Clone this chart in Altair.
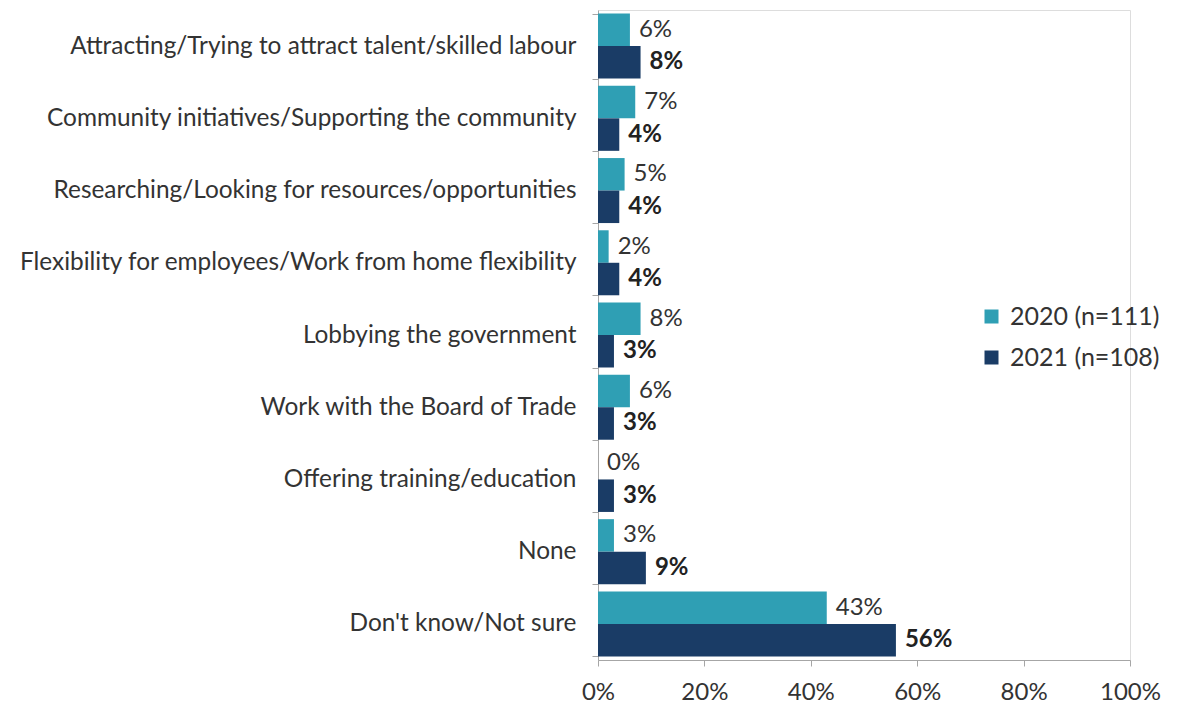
import altair as alt
import pandas as pd

categories = [
    "Attracting/Trying to attract talent/skilled labour",
    "Community initiatives/Supporting the community",
    "Researching/Looking for resources/opportunities",
    "Flexibility for employees/Work from home flexibility",
    "Lobbying the government",
    "Work with the Board of Trade",
    "Offering training/education",
    "None",
    "Don't know/Not sure",
]
series = ["2020 (n=111)", "2021 (n=108)"]
values_2020 = [6, 7, 5, 2, 8, 6, 0, 3, 43]
values_2021 = [8, 4, 4, 4, 3, 3, 3, 9, 56]
colors = ["#2F9FB4", "#1A3C66"]
x_ticks = [0, 20, 40, 60, 80, 100]

rows = []
for c, a, b in zip(categories, values_2020, values_2021):
    rows.append({"Category": c, "Year": series[0], "Value": a})
    rows.append({"Category": c, "Year": series[1], "Value": b})
df = pd.DataFrame(rows)

FONT = "Lato"
FS = 24

y_enc = alt.Y(
    "Category:N",
    sort=categories,
    title=None,
    scale=alt.Scale(paddingInner=0.1, paddingOuter=0.05),
    axis=alt.Axis(
        labelFontSize=24.4,
        labelFont=FONT,
        labelColor="#333333",
        labelPadding=16,
        labelLimit=700,
        domainColor="#A6A6A6",
        tickColor="#A6A6A6",
        tickSize=6,
        tickBand="extent",
        grid=False,
    ),
)
yoff = alt.YOffset("Year:N", sort=series, scale=alt.Scale(paddingInner=0, paddingOuter=0))
x_enc = alt.X(
    "Value:Q",
    title=None,
    scale=alt.Scale(domain=[0, 100]),
    axis=alt.Axis(
        values=x_ticks,
        labelExpr="datum.value + '%'",
        labelFontSize=FS,
        labelFont=FONT,
        labelColor="#333333",
        labelPadding=14,
        labelFlush=False,
        labelOverlap=False,
        domainColor="#A6A6A6",
        tickColor="#A6A6A6",
        tickSize=6,
        grid=False,
    ),
)

bars = alt.Chart(df).mark_bar().encode(
    y=y_enc,
    yOffset=yoff,
    x=x_enc,
    color=alt.Color(
        "Year:N",
        sort=series,
        scale=alt.Scale(domain=series, range=colors),
        legend=alt.Legend(
            title=None,
            orient="none",
            legendX=381,
            legendY=294,
            symbolType="square",
            symbolSize=196,
            labelFontSize=25,
            labelFont=FONT,
            labelColor="#333333",
            labelOffset=6,
            rowPadding=15,
            symbolStrokeWidth=0,
        ),
    ),
)

base_text = alt.Chart(df).transform_calculate(label="datum.Value + '%'")

text2020 = base_text.transform_filter(alt.datum.Year == series[0]).mark_text(
    align="left", baseline="middle", dx=9, fontSize=FS, font=FONT, color="#333333"
).encode(y=alt.Y("Category:N", sort=categories), yOffset=yoff, x="Value:Q", text="label:N")

text2021 = base_text.transform_filter(alt.datum.Year == series[1]).mark_text(
    align="left", baseline="middle", dx=9, fontSize=FS, font=FONT, color="#222222", fontWeight="bold"
).encode(y=alt.Y("Category:N", sort=categories), yOffset=yoff, x="Value:Q", text="label:N")

chart = (
    alt.layer(bars, text2020, text2021)
    .properties(
        width=532,
        height=650,
        autosize=alt.AutoSizeParams(type="none"),
        padding={"left": 590, "top": 2, "right": 40, "bottom": 43},
    )
    .configure_view(strokeWidth=0, stroke="transparent")
    .configure(background="white")
)

chart.save("out.html", embed_options={"renderer": "svg", "actions": False})
